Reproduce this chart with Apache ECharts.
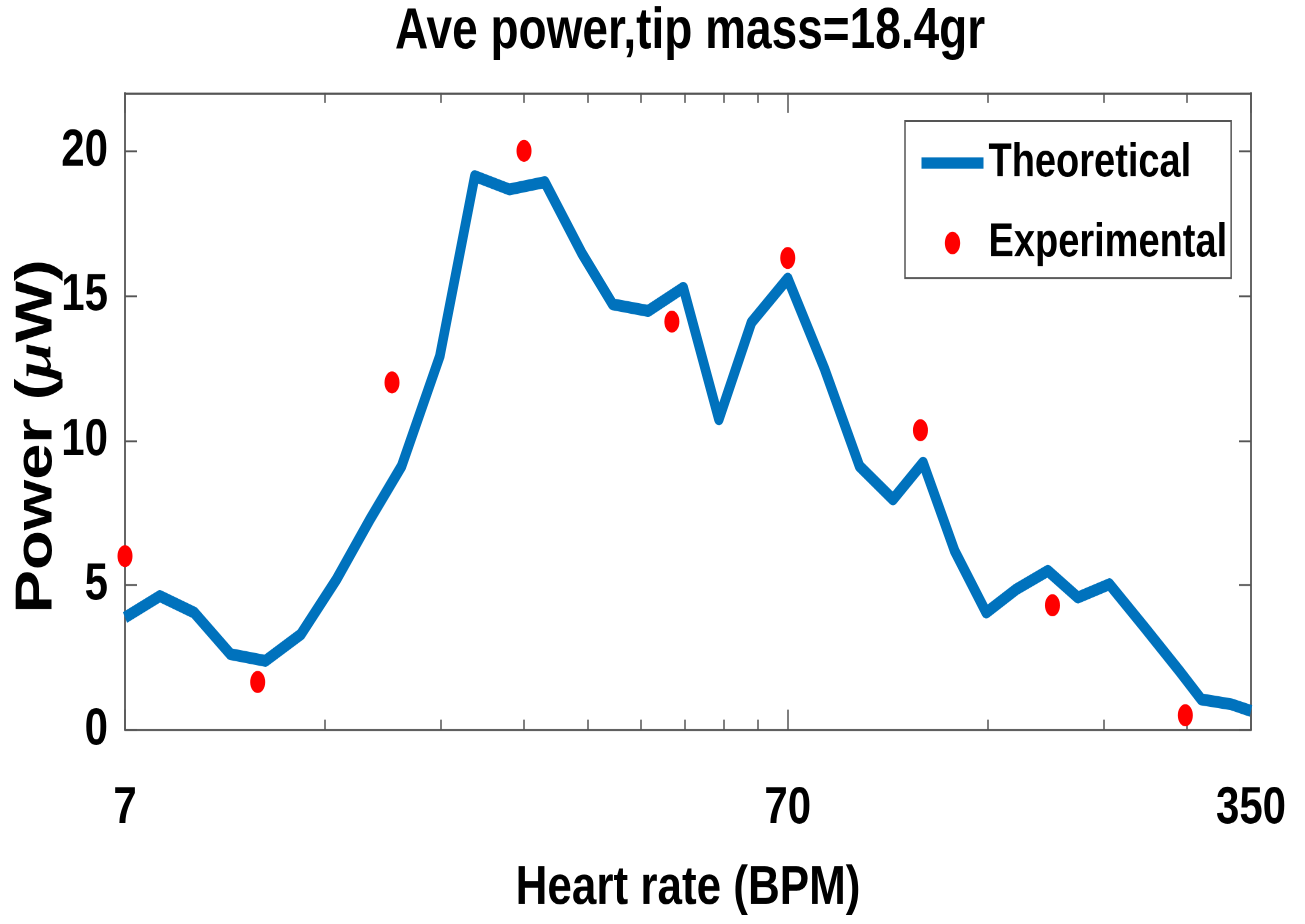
<!DOCTYPE html>
<html>
<head>
<meta charset="utf-8">
<title>Ave power, tip mass=18.4gr</title>
<script src="https://cdn.jsdelivr.net/npm/echarts@6/dist/echarts.min.js"></script>
<style>
  html, body { margin: 0; padding: 0; background: #fff; }
  #wrap { width: 1305px; height: 924px; overflow: hidden; }
  /* the original figure is stretched vertically (tall text, oval markers),
     so the chart is drawn 1.25x shorter and scaled back up */
  #chart { width: 1305px; height: 739.2px; transform: scaleY(1.25); transform-origin: 0 0; }
</style>
</head>
<body>
<div id="wrap"><div id="chart"></div></div>
<script>
// theoretical curve
const heartRate = [7, 7.9, 8.9, 10.1, 11.4, 12.9, 14.6, 16.4, 18.3, 20.9, 23.6, 26.6, 30.1, 34.2, 38.1, 43.1, 48.7, 55.1, 61.7, 70,
  79.6, 89.8, 100.9, 112, 125, 139.5, 154.8, 172.8, 191.8, 214, 241.8, 273, 294.5, 326.9, 350];
const theoretical = [3.88, 4.62, 4.05, 2.61, 2.38, 3.3, 5.2, 7.27, 9.11, 12.91, 19.13, 18.67, 18.92, 16.48, 14.7, 14.47, 15.27, 10.73, 14.07, 15.59,
  12.45, 9.11, 7.96, 9.23, 6.18, 4.05, 4.85, 5.49, 4.57, 5.03, 3.54, 2.03, 1.05, 0.88, 0.65];

// measured points
const expRate = [7, 11.1, 17.7, 28, 46.8, 70, 111, 175.6, 278.6];
const expPower = [6, 1.65, 12, 20, 14.1, 16.3, 10.35, 4.3, 0.5];

// axis ticks
const majorTicks = [7, 70, 350];
const minorTicks = [14, 21, 28, 35, 42, 49, 56, 63, 140, 210, 280];
const yTicks = [0, 5, 10, 15, 20];

const font = "'Liberation Sans', Arial, sans-serif";
const axisColor = '#555';
const blue = '#0072BD';
const red = '#ff0000';
const ellipse = 'path://M7.5,0A7.5,8.8,0,1,1,7.5,17.6A7.5,8.8,0,1,1,7.5,0Z';

const chart = echarts.init(document.getElementById('chart'), null, { renderer: 'canvas', devicePixelRatio: 2 });

// log x axis: one copy carries labels + major ticks, another the minor ticks, top and bottom
function xAxisDef(position, ticks, tickLen, withLine) {
  return {
    type: 'log',
    logBase: 10,
    min: 7,
    max: 350,
    position: position,
    axisLine: { show: withLine, lineStyle: { color: axisColor, width: 1.8 } },
    axisTick: { show: true, inside: true, length: tickLen, customValues: ticks,
      lineStyle: { color: axisColor, width: 1.5 } },
    axisLabel: { show: false },
    splitLine: { show: false }
  };
}

const bottomMajor = xAxisDef('bottom', majorTicks, 16, true);
bottomMajor.axisLabel = {
  show: true, customValues: majorTicks, margin: 42,
  color: '#000', fontFamily: font, fontWeight: 'bold', fontSize: 42
};
bottomMajor.name = 'Heart rate (BPM)';
bottomMajor.nameLocation = 'middle';
bottomMajor.nameGap = 105;
bottomMajor.nameMoveOverlap = false;
bottomMajor.nameTextStyle = { color: '#000', fontFamily: font, fontWeight: 'bold', fontSize: 44 };

function yAxisDef(position) {
  return {
    type: 'value', min: 0, max: 22, interval: 5, position: position,
    axisLine: { show: true, lineStyle: { color: axisColor, width: 1.8 } },
    axisTick: { show: true, inside: true, length: 12, customValues: yTicks, lineStyle: { color: axisColor, width: 1.5 } },
    axisLabel: { show: false },
    splitLine: { show: false }
  };
}

const leftAxis = yAxisDef('left');
leftAxis.axisLabel = { show: true, customValues: yTicks, margin: 17, color: '#000', fontFamily: font, fontWeight: 'bold', fontSize: 42 };
leftAxis.name = 'Power ({mu|μ}W)';
leftAxis.nameLocation = 'middle';
leftAxis.nameGap = 62;
leftAxis.nameMoveOverlap = false;
leftAxis.nameTextStyle = {
  color: '#000', fontFamily: font, fontWeight: 'bold', fontSize: 52,
  padding: [0, 40, 0, 0],
  rich: { mu: { color: '#000', fontFamily: "'Liberation Serif', serif", fontStyle: 'italic', fontWeight: 'bold', fontSize: 52 } }
};

chart.setOption({
  backgroundColor: '#fff',
  animation: false,
  title: {
    text: 'Ave power,tip mass=18.4gr',
    left: 395,
    top: 3,
    padding: 0,
    textStyle: { color: '#000', fontFamily: font, fontWeight: 'bold', fontSize: 46 }
  },
  grid: { left: 125, right: 54, top: 74.4, bottom: 155.2, outerBoundsMode: 'none' },
  legend: {
    orient: 'vertical',
    left: 905,
    top: 96.8,
    padding: [14.6, 4, 9, 12],
    itemGap: 26,
    itemWidth: 62,
    itemHeight: 18,
    backgroundColor: '#fff',
    borderColor: axisColor,
    borderWidth: 1.5,
    lineStyle: { width: 9 },
    textStyle: { color: '#000', fontFamily: font, fontWeight: 'bold', fontSize: 38 },
    data: [
      { name: 'Theoretical', itemStyle: { opacity: 0 } },
      { name: 'Experimental', icon: ellipse }
    ]
  },
  xAxis: [
    bottomMajor,
    xAxisDef('bottom', minorTicks, 8, false),
    xAxisDef('top', majorTicks, 16, true),
    xAxisDef('top', minorTicks, 8, false)
  ],
  yAxis: [leftAxis, yAxisDef('right')],
  series: [
    {
      name: 'Theoretical',
      type: 'line',
      xAxisIndex: 0,
      yAxisIndex: 0,
      symbol: 'none',
      color: blue,
      lineStyle: { width: 9.5, color: blue, join: 'round' },
      data: heartRate.map((x, i) => [x, theoretical[i]]),
      z: 2
    },
    {
      name: 'Experimental',
      type: 'scatter',
      xAxisIndex: 0,
      yAxisIndex: 0,
      symbol: ellipse,
      symbolSize: [15, 17.6],
      color: red,
      itemStyle: { color: red, opacity: 1 },
      clip: false,
      data: expRate.map((x, i) => [x, expPower[i]]),
      z: 3
    }
  ]
});
</script>
</body>
</html>
